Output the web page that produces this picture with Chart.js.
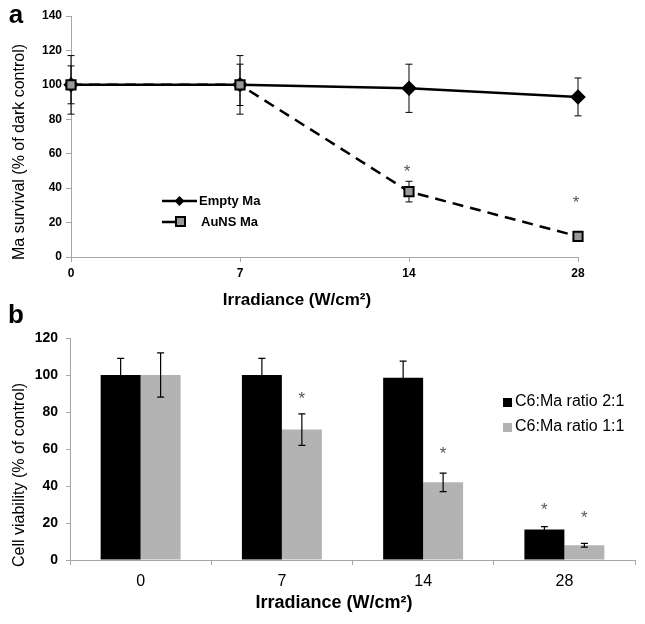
<!DOCTYPE html>
<html>
<head>
<meta charset="utf-8">
<script src="https://cdn.jsdelivr.net/npm/chart.js@4"></script>
<style>
  body { margin: 0; background: #fff; }
  #wrap { position: relative; width: 645px; height: 624px; }
  canvas { position: absolute; left: 0; }
  #chartA { top: 0; }
  #chartB { top: 300px; }
</style>
</head>
<body>
<div id="wrap">
  <canvas id="chartA" width="645" height="312"></canvas>
  <canvas id="chartB" width="645" height="324"></canvas>
</div>
<script>
// Panel a data
const irradiance = ['0', '7', '14', '28'];
const emptyMa = [100, 100, 98, 93];
const emptyMaErr = [17, 17, 14, 11];
const ausnsMa = [100, 100, 38, 12];
const ausnsMaErr = [11, 12, 6, 2];
const ausnsStars = [null, null, 52, 34];

// Panel b data
const ratio21 = [100, 100, 98.5, 16.5];
const ratio21Err = [9, 9, 9, 1.5];
const ratio21Stars = [null, null, null, 30];
const ratio11 = [100, 70.5, 42, 8];
const ratio11Err = [12, 8.5, 5, 1];
const ratio11Stars = [null, 90, 60, 25.5];

const NARROW = "'Liberation Sans Narrow', 'Arial Narrow', 'Liberation Sans', Arial, sans-serif";
const SANS = "'Liberation Sans', Arial, sans-serif";
const AXIS_GRAY = '#a6a6a6';

function drawErrorBars(chart, opts) {
    const ctx = chart.ctx;
    const yScale = chart.scales.y;
    chart.data.datasets.forEach((ds, i) => {
        if (!ds.errorBars) return;
        chart.getDatasetMeta(i).data.forEach((el, j) => {
            const x = el.x;
            const v = ds.data[j], e = ds.errorBars[j];
            const top = yScale.getPixelForValue(v + e);
            const bot = yScale.getPixelForValue(v - e);
            ctx.save();
            ctx.strokeStyle = '#000';
            ctx.lineWidth = opts.lineWidth || 1.2;
            ctx.beginPath();
            ctx.moveTo(x, top); ctx.lineTo(x, bot);
            ctx.moveTo(x - opts.cap, top); ctx.lineTo(x + opts.cap, top);
            ctx.moveTo(x - opts.cap, bot); ctx.lineTo(x + opts.cap, bot);
            ctx.stroke();
            ctx.restore();
        });
    });
}

// error bars + significance stars, drawn on the library's scales
const errorBarPlugin = {
    id: 'errorBars',
    beforeDatasetsDraw(chart, args, opts) {
        if (opts.before) drawErrorBars(chart, opts);
    },
    afterDatasetsDraw(chart, args, opts) {
        if (!opts.before) drawErrorBars(chart, opts);
        const ctx = chart.ctx;
        const yScale = chart.scales.y;
        chart.data.datasets.forEach((ds, i) => {
            if (!ds.stars) return;
            chart.getDatasetMeta(i).data.forEach((el, j) => {
                if (ds.stars[j] == null) return;
                const sy = yScale.getPixelForValue(ds.stars[j]);
                ctx.save();
                ctx.fillStyle = '#555';
                ctx.font = '17px ' + SANS;
                ctx.textAlign = 'center';
                ctx.textBaseline = 'alphabetic';
                ctx.fillText('*', el.x + (opts.starDx || 0), sy + 10);
                ctx.restore();
            });
        });
    }
};

// axis titles, panel letters and legends
const textPlugin = {
    id: 'texts',
    afterDraw(chart, args, opts) {
        const ctx = chart.ctx;
        (opts.items || []).forEach(t => {
            ctx.save();
            ctx.fillStyle = t.color || '#000';
            ctx.font = t.font;
            ctx.textAlign = t.align || 'center';
            ctx.textBaseline = 'middle';
            ctx.translate(t.x, t.y);
            if (t.rotate) ctx.rotate(t.rotate);
            ctx.fillText(t.text, 0, 0);
            ctx.restore();
        });
        if (opts.legend) opts.legend(ctx);
    }
};

// Panel a: line chart
new Chart(document.getElementById('chartA'), {
    type: 'line',
    data: {
        labels: irradiance,
        datasets: [{
            label: 'AuNS Ma',
            data: ausnsMa,
            errorBars: ausnsMaErr,
            stars: ausnsStars,
            borderColor: '#000',
            borderWidth: 2.5,
            segment: { borderDash: [11, 7] },
            pointStyle: 'rect',
            pointRadius: 6.5,
            pointBackgroundColor: '#999',
            pointBorderColor: '#000',
            pointBorderWidth: 2,
            tension: 0,
            order: 0
        }, {
            label: 'Empty Ma',
            data: emptyMa,
            errorBars: emptyMaErr,
            borderColor: '#000',
            borderWidth: 2.5,
            pointStyle: 'rectRot',
            pointRadius: 6,
            pointBackgroundColor: '#000',
            pointBorderColor: '#000',
            tension: 0,
            order: 1
        }]
    },
    options: {
        responsive: false,
        animation: false,
        layout: { padding: { left: 0, right: 67, top: 16, bottom: 0 } },
        plugins: {
            legend: { display: false },
            tooltip: { enabled: false },
            errorBars: { cap: 3.5, lineWidth: 1, starDx: -2, before: true },
            texts: {
                items: [
                    { text: 'a', x: 16, y: 16, font: 'bold 26px ' + SANS },
                    { text: 'Irradiance (W/cm²)', x: 297, y: 300, font: 'bold 17px ' + SANS },
                    { text: 'Ma survival (% of dark control)', x: 20, y: 152, font: '16px ' + SANS, rotate: -Math.PI / 2 },
                    { text: 'Empty Ma', x: 199, y: 201, font: 'bold 13px ' + NARROW, align: 'left' },
                    { text: 'AuNS Ma', x: 201, y: 222, font: 'bold 13px ' + NARROW, align: 'left' }
                ],
                legend(ctx) {
                    ctx.save();
                    ctx.strokeStyle = '#000';
                    ctx.lineWidth = 2.5;
                    ctx.beginPath();
                    ctx.moveTo(162, 201); ctx.lineTo(197, 201);
                    ctx.moveTo(162, 222); ctx.lineTo(180, 222);
                    ctx.stroke();
                    ctx.fillStyle = '#000';
                    ctx.beginPath();
                    ctx.moveTo(179.5, 196); ctx.lineTo(184.5, 201);
                    ctx.lineTo(179.5, 206); ctx.lineTo(174.5, 201);
                    ctx.closePath(); ctx.fill();
                    ctx.fillStyle = '#999';
                    ctx.lineWidth = 2;
                    ctx.fillRect(176, 217, 9, 9);
                    ctx.strokeRect(176, 217, 9, 9);
                    ctx.restore();
                }
            }
        },
        scales: {
            x: {
                type: 'category',
                offset: false,
                grid: { drawOnChartArea: false, tickLength: 5, color: AXIS_GRAY },
                border: { color: AXIS_GRAY },
                ticks: { color: '#000', padding: 4, maxRotation: 0, font: { family: NARROW, weight: 'bold', size: 12 } },
                afterFit(s) { s.height = 55; }
            },
            y: {
                min: 0,
                max: 140,
                grid: { drawOnChartArea: false, tickLength: 5, color: AXIS_GRAY },
                border: { color: AXIS_GRAY },
                ticks: { stepSize: 20, color: '#000', padding: 4, font: { family: NARROW, weight: 'bold', size: 12 } },
                afterFit(s) { s.width = 71; }
            }
        }
    },
    plugins: [errorBarPlugin, textPlugin]
});

// Panel b: grouped bar chart
new Chart(document.getElementById('chartB'), {
    type: 'bar',
    data: {
        labels: irradiance,
        datasets: [{
            label: 'C6:Ma ratio 2:1',
            data: ratio21,
            errorBars: ratio21Err,
            stars: ratio21Stars,
            backgroundColor: '#000',
            categoryPercentage: 0.566,
            barPercentage: 1
        }, {
            label: 'C6:Ma ratio 1:1',
            data: ratio11,
            errorBars: ratio11Err,
            stars: ratio11Stars,
            backgroundColor: '#b3b3b3',
            categoryPercentage: 0.566,
            barPercentage: 1
        }]
    },
    options: {
        responsive: false,
        animation: false,
        layout: { padding: { left: 0, right: 10, top: 38, bottom: 0 } },
        plugins: {
            legend: { display: false },
            tooltip: { enabled: false },
            errorBars: { cap: 3.5, lineWidth: 1.2, starDx: 0 },
            texts: {
                items: [
                    { text: 'b', x: 16, y: 16, font: 'bold 26px ' + SANS },
                    { text: 'Irradiance (W/cm²)', x: 334, y: 303, font: 'bold 18px ' + SANS },
                    { text: 'Cell viability (% of control)', x: 20, y: 175, font: '16px ' + SANS, rotate: -Math.PI / 2 },
                    { text: 'C6:Ma ratio 2:1', x: 515, y: 102, font: '16px ' + SANS, align: 'left' },
                    { text: 'C6:Ma ratio 1:1', x: 515, y: 127, font: '16px ' + SANS, align: 'left' }
                ],
                legend(ctx) {
                    ctx.save();
                    ctx.fillStyle = '#000';
                    ctx.fillRect(503, 98, 9, 9);
                    ctx.fillStyle = '#b3b3b3';
                    ctx.fillRect(503, 123, 9, 9);
                    ctx.restore();
                }
            }
        },
        scales: {
            x: {
                grid: { drawOnChartArea: false, tickLength: 5, color: AXIS_GRAY, offset: true },
                border: { color: AXIS_GRAY },
                ticks: { color: '#000', padding: 7, maxRotation: 0, font: { family: SANS, size: 16 } },
                afterFit(s) { s.height = 64; }
            },
            y: {
                min: 0,
                max: 120,
                grid: { drawOnChartArea: false, tickLength: 4, color: AXIS_GRAY },
                border: { color: AXIS_GRAY },
                ticks: { stepSize: 20, color: '#000', padding: 8, font: { family: SANS, weight: 'bold', size: 14 } },
                afterFit(s) { s.width = 70; }
            }
        }
    },
    plugins: [errorBarPlugin, textPlugin]
});
</script>
</body>
</html>
